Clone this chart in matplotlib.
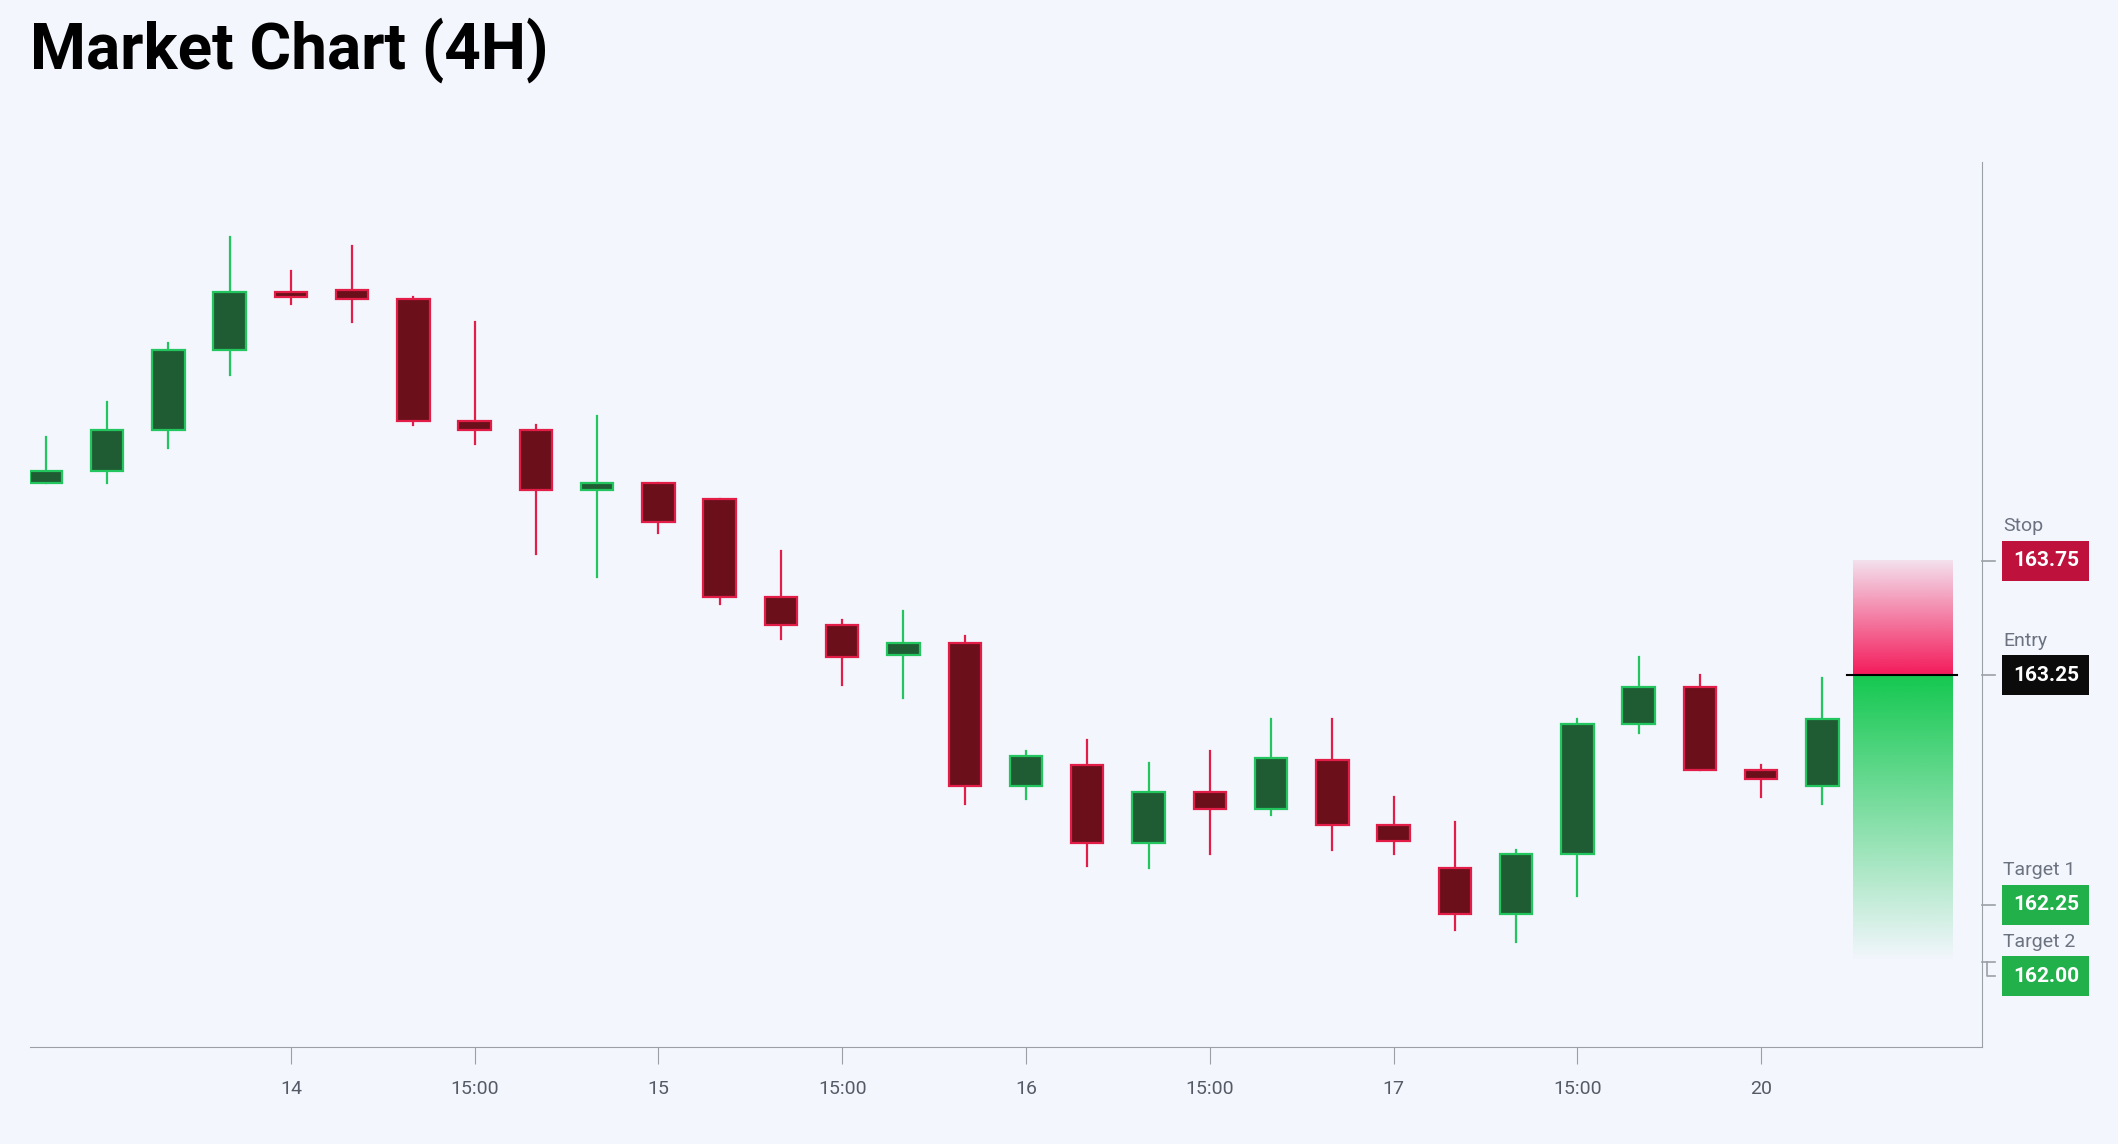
import numpy as np
import matplotlib.pyplot as plt
from matplotlib.patches import Rectangle
from matplotlib.transforms import blended_transform_factory

plt.rcParams['font.family'] = ['Roboto', 'DejaVu Sans']

# 4H candles
opens  = [164.09, 164.14, 164.32, 164.67, 164.92, 164.93, 164.89, 164.36, 164.32, 164.06, 164.09, 164.02, 163.59, 163.47, 163.34, 163.39, 162.77, 162.86, 162.52, 162.74, 162.67, 162.88, 162.60, 162.41, 162.21, 162.47, 163.04, 163.20, 162.84, 162.77]
closes = [164.14, 164.32, 164.67, 164.92, 164.90, 164.89, 164.36, 164.32, 164.06, 164.09, 163.92, 163.59, 163.47, 163.33, 163.39, 162.77, 162.90, 162.52, 162.74, 162.67, 162.89, 162.60, 162.53, 162.21, 162.47, 163.04, 163.20, 162.84, 162.80, 163.06]
highs  = [164.29, 164.44, 164.70, 165.16, 165.01, 165.12, 164.90, 164.79, 164.34, 164.38, 164.09, 164.02, 163.79, 163.49, 163.53, 163.42, 162.92, 162.97, 162.87, 162.92, 163.06, 163.06, 162.72, 162.61, 162.49, 163.06, 163.33, 163.25, 162.86, 163.24]
lows   = [164.09, 164.09, 164.24, 164.56, 164.87, 164.79, 164.34, 164.26, 163.78, 163.68, 163.87, 163.56, 163.41, 163.21, 163.15, 162.69, 162.71, 162.42, 162.41, 162.47, 162.64, 162.49, 162.47, 162.14, 162.09, 162.29, 163.00, 162.84, 162.72, 162.69]

tick_pos = [4, 7, 10, 13, 16, 19, 22, 25, 28]
tick_labels = ['14', '15:00', '15', '15:00', '16', '15:00', '17', '15:00', '20']

stop = 163.75
entry = 163.25
target1 = 162.25
target2 = 162.00

bg = '#f3f6fd'
green_edge, green_fill = '#22c55e', '#1f5c33'
red_edge, red_fill = '#e11d48', '#6b0f1a'

fig = plt.figure(figsize=(21.18, 11.44), dpi=100, facecolor=bg)
ax = fig.add_axes([0.014, 0.085, 0.9216, 0.773], facecolor=bg)

w = 0.53
for i in range(len(opens)):
    o, c, h, l = opens[i], closes[i], highs[i], lows[i]
    up = c >= o
    ec = green_edge if up else red_edge
    fc = green_fill if up else red_fill
    ax.plot([i, i], [l, h], color=ec, lw=1.6, zorder=2)
    ax.add_patch(Rectangle((i - w / 2, min(o, c)), w, max(abs(c - o), 0.01),
                           facecolor=fc, edgecolor=ec, lw=1.6, zorder=3))

# trade zones with gradients
x0, x1 = 29.5, 31.13
red = np.zeros((100, 1, 4))
red[..., :3] = np.array([0xf4, 0x1a, 0x5a]) / 255
red[:, 0, 3] = np.linspace(1, 0.1, 100)
ax.imshow(red, extent=[x0, x1, entry, stop], origin='lower', aspect='auto', zorder=1)
grn = np.zeros((100, 1, 4))
grn[..., :3] = np.array([0x14, 0xc8, 0x50]) / 255
grn[:, 0, 3] = np.linspace(0.0, 1, 100)
ax.imshow(grn, extent=[x0, x1, target2, entry], origin='lower', aspect='auto', zorder=1)
ax.plot([29.4, 31.2], [entry, entry], color='black', lw=1.5, zorder=4)

ax.set_xlim(-0.265, 31.6)
ax.set_ylim(161.632, 165.485)

for s in ['top', 'left']:
    ax.spines[s].set_visible(False)
for s in ['right', 'bottom']:
    ax.spines[s].set_color('#9aa0a6')
ax.set_xticks(tick_pos)
ax.set_xticklabels(tick_labels)
ax.tick_params(axis='x', colors='#9aa0a6', labelcolor='#555b66', labelsize=14, length=12, pad=12)
ax.set_yticks([])

trans = blended_transform_factory(ax.transAxes, ax.transData)
labels = [('Stop', stop, stop, '#be123c'), ('Entry', entry, entry, '#0b0b0b'),
          ('Target 1', target1, target1, '#22b04b'), ('Target 2', target2, 161.94, '#22b04b')]
for name, price, ypos, col in labels:
    ax.plot([1.0, 1.007], [price, price], color='#9aa0a6', lw=1.2, transform=trans, clip_on=False)
    if ypos != price:
        ax.plot([1.003, 1.003, 1.007], [price, ypos, ypos], color='#9aa0a6', lw=1.2,
                transform=trans, clip_on=False)
    ax.text(1.016, ypos, f'{price:.2f}', transform=trans, ha='left', va='center',
            fontsize=15, fontweight='bold', color='white', clip_on=False,
            bbox=dict(boxstyle='square,pad=0.5', facecolor=col, edgecolor='none'))
    ax.text(1.011, ypos + 0.15, name, transform=trans, ha='left', va='center',
            fontsize=14, color='#6b7280', clip_on=False)

fig.text(0.014, 0.956, 'Market Chart (4H)', fontsize=46, fontweight='bold', ha='left', va='center')

fig.savefig('out.png', dpi=100, facecolor=bg)
